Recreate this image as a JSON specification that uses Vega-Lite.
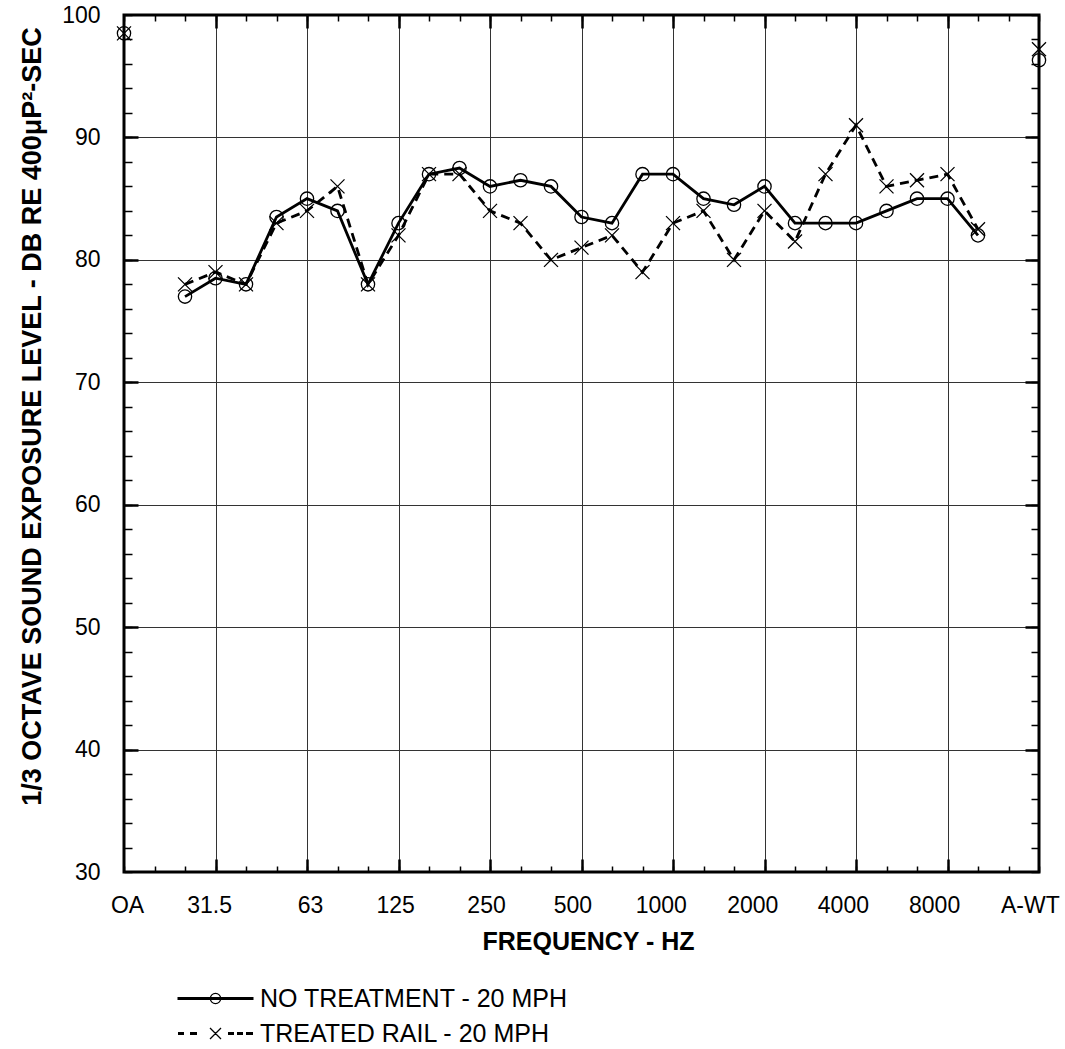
{
  "$schema": "https://vega.github.io/schema/vega-lite/v6.json",
  "width": 915,
  "height": 857,
  "autosize": {"type": "none"},
  "padding": {"left": 124, "top": 15, "right": 26, "bottom": 177},
  "background": "white",
  "config": {
    "view": {"stroke": "black", "strokeWidth": 3},
    "font": "Liberation Sans",
    "axis": {
      "domain": false,
      "labelFont": "Liberation Sans",
      "titleFont": "Liberation Sans",
      "labelColor": "black",
      "titleColor": "black",
      "tickColor": "black",
      "gridColor": "#333333",
      "gridWidth": 1,
      "gridOpacity": 1
    }
  },
  "data": {
    "values": [
      {"i": 0, "hz": "OA", "series": "NO TREATMENT - 20 MPH", "db": 98.5, "kind": "overall"},
      {"i": 2, "hz": "25", "series": "NO TREATMENT - 20 MPH", "db": 77, "kind": "band"},
      {"i": 3, "hz": "31.5", "series": "NO TREATMENT - 20 MPH", "db": 78.5, "kind": "band"},
      {"i": 4, "hz": "40", "series": "NO TREATMENT - 20 MPH", "db": 78, "kind": "band"},
      {"i": 5, "hz": "50", "series": "NO TREATMENT - 20 MPH", "db": 83.5, "kind": "band"},
      {"i": 6, "hz": "63", "series": "NO TREATMENT - 20 MPH", "db": 85, "kind": "band"},
      {"i": 7, "hz": "80", "series": "NO TREATMENT - 20 MPH", "db": 84, "kind": "band"},
      {"i": 8, "hz": "100", "series": "NO TREATMENT - 20 MPH", "db": 78, "kind": "band"},
      {"i": 9, "hz": "125", "series": "NO TREATMENT - 20 MPH", "db": 83, "kind": "band"},
      {"i": 10, "hz": "160", "series": "NO TREATMENT - 20 MPH", "db": 87, "kind": "band"},
      {"i": 11, "hz": "200", "series": "NO TREATMENT - 20 MPH", "db": 87.5, "kind": "band"},
      {"i": 12, "hz": "250", "series": "NO TREATMENT - 20 MPH", "db": 86, "kind": "band"},
      {"i": 13, "hz": "315", "series": "NO TREATMENT - 20 MPH", "db": 86.5, "kind": "band"},
      {"i": 14, "hz": "400", "series": "NO TREATMENT - 20 MPH", "db": 86, "kind": "band"},
      {"i": 15, "hz": "500", "series": "NO TREATMENT - 20 MPH", "db": 83.5, "kind": "band"},
      {"i": 16, "hz": "630", "series": "NO TREATMENT - 20 MPH", "db": 83, "kind": "band"},
      {"i": 17, "hz": "800", "series": "NO TREATMENT - 20 MPH", "db": 87, "kind": "band"},
      {"i": 18, "hz": "1000", "series": "NO TREATMENT - 20 MPH", "db": 87, "kind": "band"},
      {"i": 19, "hz": "1250", "series": "NO TREATMENT - 20 MPH", "db": 85, "kind": "band"},
      {"i": 20, "hz": "1600", "series": "NO TREATMENT - 20 MPH", "db": 84.5, "kind": "band"},
      {"i": 21, "hz": "2000", "series": "NO TREATMENT - 20 MPH", "db": 86, "kind": "band"},
      {"i": 22, "hz": "2500", "series": "NO TREATMENT - 20 MPH", "db": 83, "kind": "band"},
      {"i": 23, "hz": "3150", "series": "NO TREATMENT - 20 MPH", "db": 83, "kind": "band"},
      {"i": 24, "hz": "4000", "series": "NO TREATMENT - 20 MPH", "db": 83, "kind": "band"},
      {"i": 25, "hz": "5000", "series": "NO TREATMENT - 20 MPH", "db": 84, "kind": "band"},
      {"i": 26, "hz": "6300", "series": "NO TREATMENT - 20 MPH", "db": 85, "kind": "band"},
      {"i": 27, "hz": "8000", "series": "NO TREATMENT - 20 MPH", "db": 85, "kind": "band"},
      {"i": 28, "hz": "10000", "series": "NO TREATMENT - 20 MPH", "db": 82, "kind": "band"},
      {"i": 30, "hz": "A-WT", "series": "NO TREATMENT - 20 MPH", "db": 96.3, "kind": "overall"},
      {"i": 0, "hz": "OA", "series": "TREATED RAIL - 20 MPH", "db": 98.5, "kind": "overall"},
      {"i": 2, "hz": "25", "series": "TREATED RAIL - 20 MPH", "db": 78, "kind": "band"},
      {"i": 3, "hz": "31.5", "series": "TREATED RAIL - 20 MPH", "db": 79, "kind": "band"},
      {"i": 4, "hz": "40", "series": "TREATED RAIL - 20 MPH", "db": 78, "kind": "band"},
      {"i": 5, "hz": "50", "series": "TREATED RAIL - 20 MPH", "db": 83, "kind": "band"},
      {"i": 6, "hz": "63", "series": "TREATED RAIL - 20 MPH", "db": 84, "kind": "band"},
      {"i": 7, "hz": "80", "series": "TREATED RAIL - 20 MPH", "db": 86, "kind": "band"},
      {"i": 8, "hz": "100", "series": "TREATED RAIL - 20 MPH", "db": 78, "kind": "band"},
      {"i": 9, "hz": "125", "series": "TREATED RAIL - 20 MPH", "db": 82, "kind": "band"},
      {"i": 10, "hz": "160", "series": "TREATED RAIL - 20 MPH", "db": 87, "kind": "band"},
      {"i": 11, "hz": "200", "series": "TREATED RAIL - 20 MPH", "db": 87, "kind": "band"},
      {"i": 12, "hz": "250", "series": "TREATED RAIL - 20 MPH", "db": 84, "kind": "band"},
      {"i": 13, "hz": "315", "series": "TREATED RAIL - 20 MPH", "db": 83, "kind": "band"},
      {"i": 14, "hz": "400", "series": "TREATED RAIL - 20 MPH", "db": 80, "kind": "band"},
      {"i": 15, "hz": "500", "series": "TREATED RAIL - 20 MPH", "db": 81, "kind": "band"},
      {"i": 16, "hz": "630", "series": "TREATED RAIL - 20 MPH", "db": 82, "kind": "band"},
      {"i": 17, "hz": "800", "series": "TREATED RAIL - 20 MPH", "db": 79, "kind": "band"},
      {"i": 18, "hz": "1000", "series": "TREATED RAIL - 20 MPH", "db": 83, "kind": "band"},
      {"i": 19, "hz": "1250", "series": "TREATED RAIL - 20 MPH", "db": 84, "kind": "band"},
      {"i": 20, "hz": "1600", "series": "TREATED RAIL - 20 MPH", "db": 80, "kind": "band"},
      {"i": 21, "hz": "2000", "series": "TREATED RAIL - 20 MPH", "db": 84, "kind": "band"},
      {"i": 22, "hz": "2500", "series": "TREATED RAIL - 20 MPH", "db": 81.5, "kind": "band"},
      {"i": 23, "hz": "3150", "series": "TREATED RAIL - 20 MPH", "db": 87, "kind": "band"},
      {"i": 24, "hz": "4000", "series": "TREATED RAIL - 20 MPH", "db": 91, "kind": "band"},
      {"i": 25, "hz": "5000", "series": "TREATED RAIL - 20 MPH", "db": 86, "kind": "band"},
      {"i": 26, "hz": "6300", "series": "TREATED RAIL - 20 MPH", "db": 86.5, "kind": "band"},
      {"i": 27, "hz": "8000", "series": "TREATED RAIL - 20 MPH", "db": 87, "kind": "band"},
      {"i": 28, "hz": "10000", "series": "TREATED RAIL - 20 MPH", "db": 82.5, "kind": "band"},
      {"i": 30, "hz": "A-WT", "series": "TREATED RAIL - 20 MPH", "db": 97.2, "kind": "overall"}
    ]
  },
  "resolve": {"axis": {"x": "independent", "y": "independent"}},
  "layer": [
    {
      "transform": [{"filter": "datum.kind == 'band' && datum.series == 'NO TREATMENT - 20 MPH'"}],
      "mark": {"type": "line", "color": "black", "strokeWidth": 2.8},
      "encoding": {
        "x": {
          "field": "i", "type": "quantitative",
          "scale": {"domain": [0, 30], "nice": false, "zero": false},
          "axis": {
            "orient": "bottom",
            "values": [0.1, 2.79, 6.1, 8.89, 11.87, 14.7, 17.6, 20.6, 23.57, 26.56, 29.7],
            "labelExpr": "['OA','31.5','63','125','250','500','1000','2000','4000','8000','A-WT'][round(datum.value / 3)]",
            "ticks": false, "grid": false,
            "labelFontSize": 23, "labelPadding": 22,
            "labelFlush": false, "labelOverlap": false, "labelBound": false,
            "title": "FREQUENCY - HZ",
            "titleFontSize": 25, "titleFontWeight": "bold",
            "titleX": 464, "titleY": 69, "titleBaseline": "middle", "titleAlign": "center"
          }
        },
        "y": {
          "field": "db", "type": "quantitative",
          "scale": {"domain": [30, 100], "nice": false, "zero": false},
          "axis": {
            "orient": "left",
            "values": [30, 40, 50, 60, 70, 80, 90, 100],
            "ticks": false, "grid": false,
            "labelFontSize": 23, "labelPadding": 24,
            "labelFlush": false, "labelOverlap": false, "labelBound": false,
            "title": "1/3 OCTAVE SOUND EXPOSURE LEVEL - DB RE 400μP²-SEC",
            "titleFontSize": 27, "titleFontWeight": "bold",
            "titleX": -92, "titleY": 401, "titleAngle": 270,
            "titleBaseline": "middle", "titleAlign": "center"
          }
        }
      }
    },
    {
      "transform": [{"filter": "datum.kind == 'band' && datum.series == 'TREATED RAIL - 20 MPH'"}],
      "mark": {"type": "line", "color": "black", "strokeWidth": 2.8, "strokeDash": [9, 6]},
      "encoding": {
        "x": {"field": "i", "type": "quantitative", "scale": {"domain": [0, 30], "nice": false, "zero": false}, "axis": null},
        "y": {"field": "db", "type": "quantitative", "scale": {"domain": [30, 100], "nice": false, "zero": false}, "axis": null}
      }
    },
    {
      "transform": [{"filter": "datum.series == 'NO TREATMENT - 20 MPH'"}],
      "mark": {"type": "point", "shape": "circle", "size": 177, "filled": false, "color": "black", "strokeWidth": 1.3, "opacity": 1},
      "encoding": {
        "x": {
          "field": "i", "type": "quantitative",
          "scale": {"domain": [0, 30], "nice": false, "zero": false},
          "axis": {
            "orient": "bottom",
            "values": [0,1,2,3,4,5,6,7,8,9,10,11,12,13,14,15,16,17,18,19,20,21,22,23,24,25,26,27,28,29,30],
            "labels": false, "ticks": true, "tickSize": -6, "tickWidth": 1.5, "grid": false, "title": null
          }
        },
        "y": {
          "field": "db", "type": "quantitative",
          "scale": {"domain": [30, 100], "nice": false, "zero": false},
          "axis": {
            "orient": "left",
            "values": [30,32,34,36,38,40,42,44,46,48,50,52,54,56,58,60,62,64,66,68,70,72,74,76,78,80,82,84,86,88,90,92,94,96,98,100],
            "labels": false, "ticks": true, "tickSize": -8, "tickWidth": 1.5, "grid": false, "title": null
          }
        }
      }
    },
    {
      "transform": [{"filter": "datum.series == 'TREATED RAIL - 20 MPH'"}],
      "mark": {"type": "point", "shape": "M -1 -1 L 1 1 M -1 1 L 1 -1", "size": 196, "filled": false, "color": "black", "strokeWidth": 1.3, "opacity": 1},
      "encoding": {
        "x": {
          "field": "i", "type": "quantitative",
          "scale": {"domain": [0, 30], "nice": false, "zero": false},
          "axis": {
            "orient": "top",
            "values": [0,1,2,3,4,5,6,7,8,9,10,11,12,13,14,15,16,17,18,19,20,21,22,23,24,25,26,27,28,29,30],
            "labels": false, "ticks": true, "tickSize": -6, "tickWidth": 1.5, "grid": false, "title": null
          }
        },
        "y": {
          "field": "db", "type": "quantitative",
          "scale": {"domain": [30, 100], "nice": false, "zero": false},
          "axis": {
            "orient": "right",
            "values": [30,32,34,36,38,40,42,44,46,48,50,52,54,56,58,60,62,64,66,68,70,72,74,76,78,80,82,84,86,88,90,92,94,96,98,100],
            "labels": false, "ticks": true, "tickSize": -8, "tickWidth": 1.5, "grid": false, "title": null
          }
        }
      }
    },
    {
      "mark": {"type": "point", "filled": true, "color": "black", "opacity": 0, "size": 1},
      "encoding": {
        "x": {
          "field": "i", "type": "quantitative",
          "scale": {"domain": [0, 30], "nice": false, "zero": false},
          "axis": {
            "orient": "bottom",
            "values": [3, 6, 9, 12, 15, 18, 21, 24, 27],
            "labels": false, "ticks": true, "tickSize": -13, "tickWidth": 2.5, "grid": true, "title": null
          }
        },
        "y": {
          "field": "db", "type": "quantitative",
          "scale": {"domain": [30, 100], "nice": false, "zero": false},
          "axis": {
            "orient": "left",
            "values": [40, 50, 60, 70, 80, 90],
            "labels": false, "ticks": true, "tickSize": -14, "tickWidth": 2.5, "grid": true, "title": null
          }
        },
        "shape": {
          "field": "series", "type": "nominal",
          "scale": {
            "domain": ["NO TREATMENT - 20 MPH", "TREATED RAIL - 20 MPH"],
            "range": [
              "M -38 -1.4 L 38 -1.4 L 38 1.4 L -38 1.4 Z M 5.8 0 L 5.36 2.22 L 4.1 4.1 L 2.22 5.36 L 0 5.8 L -2.22 5.36 L -4.1 4.1 L -5.36 2.22 L -5.8 0 L -5.36 -2.22 L -4.1 -4.1 L -2.22 -5.36 L 0 -5.8 L 2.22 -5.36 L 4.1 -4.1 L 5.36 -2.22 Z M 4.6 0 L 4.25 -1.76 L 3.25 -3.25 L 1.76 -4.25 L 0 -4.6 L -1.76 -4.25 L -3.25 -3.25 L -4.25 -1.76 L -4.6 0 L -4.25 1.76 L -3.25 3.25 L -1.76 4.25 L 0 4.6 L 1.76 4.25 L 3.25 3.25 L 4.25 1.76 Z",
              "M -37.5 -1.4 L -31.5 -1.4 L -31.5 1.4 L -37.5 1.4 Z M -25.5 -1.4 L -18.5 -1.4 L -18.5 1.4 L -25.5 1.4 Z M 12.5 -1.4 L 18.5 -1.4 L 18.5 1.4 L 12.5 1.4 Z M 21.5 -1.4 L 27.5 -1.4 L 27.5 1.4 L 21.5 1.4 Z M 30.5 -1.4 L 37.5 -1.4 L 37.5 1.4 L 30.5 1.4 Z M -5.04 -5.96 L 5.96 4.96 L 5.04 5.96 L -5.96 -5.04 Z M -5.04 5.96 L -5.96 5.04 L 5.04 -5.96 L 5.96 -4.96 Z"
            ]
          },
          "legend": {
            "orient": "none", "legendX": 53, "legendY": 971,
            "title": null, "padding": 0,
            "symbolSize": 4, "symbolFillColor": "black", "symbolStrokeColor": "black", "symbolStrokeWidth": 0, "symbolOpacity": 1,
            "symbolOffset": 26, "labelOffset": 32, "rowPadding": 9,
            "labelFont": "Liberation Sans", "labelFontSize": 25, "labelColor": "black", "labelLimit": 1000
          }
        }
      }
    },
    {
      "mark": {"type": "point", "filled": true, "color": "black", "opacity": 0, "size": 1},
      "encoding": {
        "x": {
          "field": "i", "type": "quantitative",
          "scale": {"domain": [0, 30], "nice": false, "zero": false},
          "axis": {
            "orient": "top",
            "values": [3, 6, 9, 12, 15, 18, 21, 24, 27],
            "labels": false, "ticks": true, "tickSize": -13, "tickWidth": 2.5, "grid": false, "title": null
          }
        },
        "y": {
          "field": "db", "type": "quantitative",
          "scale": {"domain": [30, 100], "nice": false, "zero": false},
          "axis": {
            "orient": "right",
            "values": [40, 50, 60, 70, 80, 90],
            "labels": false, "ticks": true, "tickSize": -14, "tickWidth": 2.5, "grid": false, "title": null
          }
        }
      }
    }
  ]
}
